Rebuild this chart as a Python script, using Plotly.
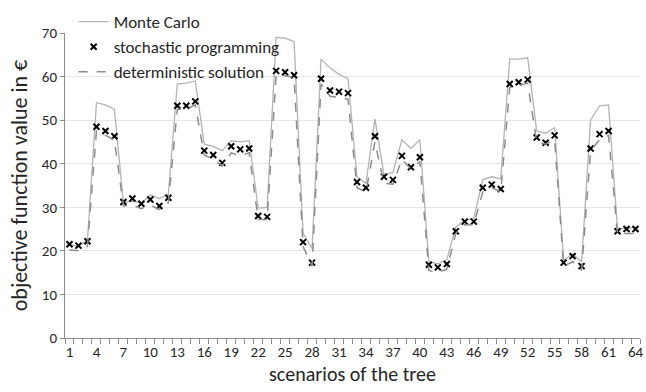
import plotly.graph_objects as go

scenarios = list(range(1, 65))

monte_carlo = [
    21.5, 21.0, 22.5, 54.0, 53.5, 52.5, 31.0, 31.5, 31.0, 32.8,
    32.0, 33.0, 58.3, 58.5, 59.0, 44.5, 44.0, 43.0, 45.3, 45.0,
    45.3, 29.8, 30.0, 69.0, 68.8, 68.0, 24.0, 20.5, 64.0, 62.0,
    60.5, 59.5, 37.0, 35.5, 50.3, 37.5, 38.0, 45.5, 43.5, 45.5,
    17.5, 17.0, 18.0, 25.5, 27.0, 27.5, 36.3, 37.0, 36.5, 64.0,
    64.0, 64.3, 47.5, 47.0, 48.3, 17.8, 19.3, 17.5, 50.0, 53.3,
    53.5, 25.0, 25.2, 25.3,
]

stochastic = [
    21.5, 21.2, 22.2, 48.5, 47.5, 46.3, 31.2, 32.0, 30.8, 31.8,
    30.3, 32.2, 53.3, 53.3, 54.3, 43.0, 42.0, 40.2, 44.0, 43.3,
    43.5, 28.0, 27.8, 61.3, 61.0, 60.3, 22.0, 17.3, 59.5, 56.8,
    56.5, 56.2, 35.8, 34.5, 46.3, 37.0, 36.3, 41.8, 39.2, 41.5,
    16.8, 16.2, 17.0, 24.5, 26.7, 26.7, 34.5, 35.2, 34.2, 58.3,
    58.7, 59.3, 46.0, 44.8, 46.5, 17.3, 18.8, 16.5, 43.5, 46.8,
    47.5, 24.5, 25.0, 25.0,
]

deterministic = [
    20.2, 20.0, 21.0, 47.5, 46.5, 45.5, 30.3, 30.5, 29.7, 30.5,
    29.5, 31.0, 52.5, 52.5, 53.5, 42.0, 41.0, 39.5, 42.5, 41.8,
    42.5, 27.2, 27.2, 60.5, 60.2, 59.8, 21.0, 16.5, 58.3, 55.5,
    55.2, 54.8, 34.5, 33.5, 45.0, 35.5, 35.3, 41.0, 38.8, 40.5,
    15.5, 15.0, 15.8, 24.0, 26.0, 26.0, 33.5, 34.5, 33.5, 57.5,
    58.0, 58.5, 45.0, 44.5, 45.5, 16.5, 17.5, 15.5, 43.0, 45.5,
    46.5, 23.8, 24.0, 24.0,
]

x_labels = list(range(1, 65, 3))
y_ticks = list(range(0, 71, 10))

FONT = "Carlito, Calibri, Lato, sans-serif"

fig = go.Figure()
fig.add_trace(go.Scatter(
    x=scenarios, y=monte_carlo, mode="lines", name="Monte Carlo",
    line=dict(color="#b4b4b4", width=1.3), legendgroup="a",
))
fig.add_trace(go.Scatter(
    x=scenarios, y=stochastic, mode="markers", name="stochastic programming",
    marker=dict(symbol="x-thin-open", size=6, color="black",
                line=dict(color="black", width=2)),
    legendgroup="b",
))
fig.add_trace(go.Scatter(
    x=scenarios, y=deterministic, mode="lines", name="deterministic solution",
    line=dict(color="#8c8c8c", width=1.5, dash="dash"), legendgroup="c",
))

fig.update_layout(
    width=646, height=392,
    margin=dict(l=65, r=3, t=33, b=54),
    paper_bgcolor="white", plot_bgcolor="white",
    font=dict(family=FONT, color="#404040", size=14),
    showlegend=True,
    legend=dict(
        x=0.015, y=1.095, xanchor="left", yanchor="top",
        bgcolor="rgba(0,0,0,0)", font=dict(size=17, color="#262626"),
        tracegroupgap=0, itemwidth=30,
    ),
    xaxis=dict(
        range=[0.5, 64.5], tickmode="array", tickvals=x_labels,
        ticktext=[str(v) for v in x_labels], ticks="",
        ticklabeloverflow="allow",
        showgrid=False, zeroline=False,
        showline=True, linecolor="#8c8c8c", linewidth=1,
        tickfont=dict(size=15, color="#262626"),
        minor=dict(tickmode="linear", tick0=0.5, dtick=1, ticks="outside",
                   ticklen=5, tickcolor="#8c8c8c", showgrid=False),
        title=dict(text="scenarios of the tree", font=dict(size=20, color="#262626"),
                   standoff=6),
    ),
    yaxis=dict(
        range=[0, 70], tickmode="array", tickvals=y_ticks,
        showgrid=True, gridcolor="#e6e6e6", gridwidth=1, zeroline=False,
        showline=True, linecolor="#8c8c8c", linewidth=1,
        ticks="outside", ticklen=4, tickcolor="#8c8c8c",
        tickfont=dict(size=15, color="#262626"),
        title=dict(text="objective function value in €", font=dict(size=22, color="#262626"),
                   standoff=8),
    ),
)

fig.write_html("out.html")
